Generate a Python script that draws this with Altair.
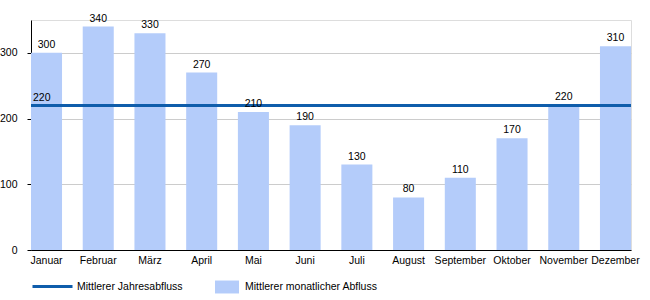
import altair as alt
import pandas as pd

months = ["Januar", "Februar", "März", "April", "Mai", "Juni", "Juli",
          "August", "September", "Oktober", "November", "Dezember"]
monthly = [300, 340, 330, 270, 210, 190, 130, 80, 110, 170, 220, 310]
annual_mean = 220
bar_name = "Mittlerer monatlicher Abfluss"
line_name = "Mittlerer Jahresabfluss"

FONT = "Liberation Sans"
FS = 10.5

bars_df = pd.DataFrame({"Monat": months, "Abfluss": monthly, "Serie": bar_name})
line_df = pd.DataFrame({"Wert": [annual_mean], "Serie": [line_name]})

x_enc = alt.X("Monat:N", sort=months,
              scale=alt.Scale(paddingInner=0.4, paddingOuter=0, align=0),
              axis=alt.Axis(title=None, labelAngle=0, ticks=False, domain=True,
                            domainColor="black", labelPadding=5, labelFontSize=FS,
                            labelFont=FONT, labelColor="black", grid=False))
y_scale = alt.Scale(domain=[0, 350], nice=False)

bars = alt.Chart(bars_df).mark_bar(color="#b4ccfa").encode(
    x=x_enc,
    y=alt.Y("Abfluss:Q", scale=y_scale,
            axis=alt.Axis(title=None, values=list(range(0, 351, 50)),
                          labelExpr="datum.value % 100 == 0 && datum.value <= 300 ? datum.label : ''",
                          tickSize=4, tickColor="black", domainColor="black",
                          labelPadding=10, labelFontSize=FS, labelFont=FONT,
                          labelColor="black", gridColor="#cccccc")),
    fill=alt.Fill("Serie:N", scale=alt.Scale(domain=[bar_name], range=["#b4ccfa"]),
                  legend=alt.Legend(title=None, orient="none", legendX=184, legendY=255,
                                    symbolType="M-1,-0.54H1V0.54H-1Z", symbolSize=576,
                                    symbolStrokeWidth=0, labelFontSize=FS, labelFont=FONT,
                                    labelColor="black", labelOffset=6, padding=0)),
)

labels = alt.Chart(bars_df).mark_text(dy=-5, baseline="alphabetic", fontSize=FS,
                                      font=FONT, color="black").encode(
    x=alt.X("Monat:N", sort=months),
    y=alt.Y("Abfluss:Q", scale=y_scale),
    text="Abfluss:Q",
)

rule = alt.Chart(line_df).mark_rule(strokeWidth=3).encode(
    y=alt.Y("Wert:Q", scale=y_scale),
    stroke=alt.Stroke("Serie:N", scale=alt.Scale(domain=[line_name], range=["#0f5dab"]),
                      legend=alt.Legend(title=None, orient="none", legendX=0, legendY=245,
                                        symbolType="stroke", symbolSize=1600,
                                        symbolStrokeWidth=3, labelFontSize=FS,
                                        labelFont=FONT, labelColor="black",
                                        labelOffset=3, padding=0)),
)

rule_label = alt.Chart(line_df).mark_text(align="left", baseline="alphabetic", dy=-4,
                                          fontSize=FS, font=FONT, color="black").encode(
    x=alt.value(2),
    y=alt.Y("Wert:Q", scale=y_scale),
    text="Wert:Q",
)

chart = alt.layer(bars, rule, labels, rule_label).properties(
    width=600, height=230,
    autosize=alt.AutoSizeParams(type="none"),
    padding={"left": 31, "top": 20, "right": 19, "bottom": 50},
).configure_view(stroke=None).configure(background="white")

chart.save("out.html", embed_options={"renderer": "svg", "actions": False})
